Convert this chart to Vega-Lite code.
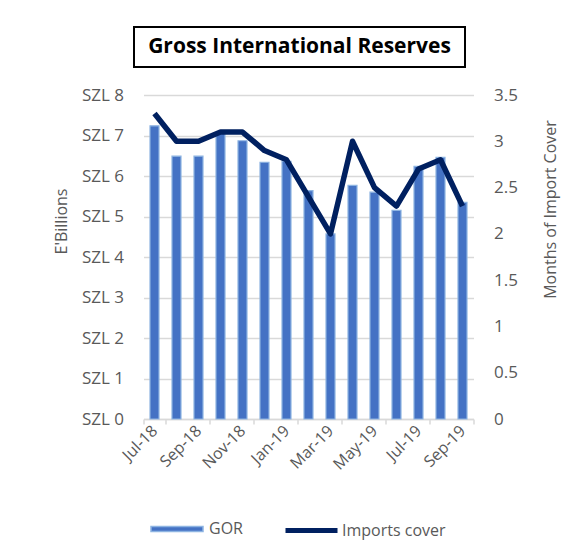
{
  "$schema": "https://vega.github.io/schema/vega-lite/v6.json",
  "background": "white",
  "padding": {"left": 53, "top": 26, "right": 5, "bottom": 5},
  "config": {"font": "Open Sans"},
  "spacing": 18,
  "center": true,
  "vconcat": [
    {
      "width": 331,
      "height": 40,
      "view": {"stroke": "black", "strokeWidth": 2},
      "data": {"values": [{"title": "Gross International Reserves"}]},
      "mark": {"type": "text", "fontWeight": "bold", "fontSize": 21, "font": "Open Sans", "color": "black"},
      "encoding": {
        "text": {"field": "title"},
        "y": {
          "datum": "t",
          "type": "nominal",
          "axis": {
            "orient": "right",
            "labels": false,
            "ticks": false,
            "domain": false,
            "grid": false,
            "minExtent": 0,
            "title": "|",
            "titleColor": "white",
            "titleFontSize": 10,
            "titlePadding": 92
          }
        }
      }
    },
    {
      "width": 330,
      "height": 324,
      "view": {"stroke": null},
      "data": {
        "values": [
          {"month": "Jul-18", "gor": 7.24, "cover": 3.3},
          {"month": "Aug-18", "gor": 6.49, "cover": 3.0},
          {"month": "Sep-18", "gor": 6.49, "cover": 3.0},
          {"month": "Oct-18", "gor": 7.06, "cover": 3.1},
          {"month": "Nov-18", "gor": 6.87, "cover": 3.1},
          {"month": "Dec-18", "gor": 6.34, "cover": 2.9},
          {"month": "Jan-19", "gor": 6.36, "cover": 2.8},
          {"month": "Feb-19", "gor": 5.64, "cover": 2.4},
          {"month": "Mar-19", "gor": 4.57, "cover": 2.0},
          {"month": "Apr-19", "gor": 5.77, "cover": 3.0},
          {"month": "May-19", "gor": 5.60, "cover": 2.5},
          {"month": "Jun-19", "gor": 5.15, "cover": 2.3},
          {"month": "Jul-19", "gor": 6.24, "cover": 2.7},
          {"month": "Aug-19", "gor": 6.46, "cover": 2.8},
          {"month": "Sep-19", "gor": 5.35, "cover": 2.3}
        ]
      },
      "encoding": {
        "x": {
          "field": "month",
          "type": "nominal",
          "sort": null,
          "scale": {"paddingInner": 0, "paddingOuter": 0},
          "axis": {
            "title": null,
            "values": ["Jul-18", "Sep-18", "Nov-18", "Jan-19", "Mar-19", "May-19", "Jul-19", "Sep-19"],
            "tickBand": "extent",
            "labelAngle": -45,
            "labelAlign": "right",
            "labelBaseline": "middle",
            "labelFontSize": 16,
            "labelColor": "#595959",
            "labelPadding": 4,
            "domainColor": "#d9d9d9",
            "domainWidth": 1.5,
            "tickColor": "#d9d9d9",
            "tickWidth": 1.5,
            "tickSize": 5,
            "grid": false
          }
        }
      },
      "layer": [
        {
          "mark": {"type": "bar", "size": 9, "stroke": "#8db4e2", "strokeWidth": 1.2},
          "encoding": {
            "y": {
              "field": "gor",
              "type": "quantitative",
              "scale": {"domain": [0, 8]},
              "axis": {
                "values": [0, 1, 2, 3, 4, 5, 6, 7, 8],
                "labelExpr": "'SZL ' + datum.value",
                "labelFontSize": 17,
                "labelColor": "#595959",
                "labelPadding": 20,
                "ticks": false,
                "domain": false,
                "grid": true,
                "gridColor": "#d9d9d9",
                "gridWidth": 1.5,
                "title": "E'Billions",
                "titleFontSize": 16,
                "titleFontWeight": "normal",
                "titleColor": "#595959",
                "titleX": -82,
                "titleY": 126,
                "titleAlign": "center",
                "titleBaseline": "middle",
                "titleAngle": -90
              }
            },
            "fill": {
              "datum": "GOR",
              "type": "nominal",
              "scale": {"domain": ["GOR"], "range": ["#4472c4"]},
              "legend": {
                "title": null,
                "orient": "bottom",
                "direction": "horizontal",
                "symbolType": "M-1,-0.1H1V0.1H-1Z",
                "symbolSize": 2704,
                "symbolStrokeColor": "#8db4e2",
                "symbolStrokeWidth": 1.5,
                "labelFontSize": 16,
                "labelColor": "#595959",
                "labelOffset": 5,
                "padding": 16,
                "offset": 13
              }
            }
          }
        },
        {
          "mark": {"type": "line", "strokeWidth": 5.5, "strokeJoin": "round"},
          "encoding": {
            "y": {
              "field": "cover",
              "type": "quantitative",
              "scale": {"domain": [0, 3.5]},
              "axis": {
                "orient": "right",
                "values": [0, 0.5, 1, 1.5, 2, 2.5, 3, 3.5],
                "format": "~g",
                "labelFontSize": 17,
                "labelColor": "#595959",
                "labelPadding": 20,
                "ticks": false,
                "domain": false,
                "grid": false,
                "title": "Months of Import Cover",
                "titleFontSize": 16,
                "titleFontWeight": "normal",
                "titleColor": "#595959",
                "titleX": 77,
                "titleY": 114,
                "titleAlign": "center",
                "titleBaseline": "middle",
                "titleAngle": -90
              }
            },
            "stroke": {
              "datum": "Imports cover",
              "type": "nominal",
              "scale": {"domain": ["Imports cover"], "range": ["#002060"]},
              "legend": {
                "title": null,
                "orient": "bottom",
                "direction": "horizontal",
                "symbolType": "M-1,0H1",
                "symbolSize": 2704,
                "symbolStrokeWidth": 5,
                "labelFontSize": 16,
                "labelColor": "#595959",
                "labelOffset": 2,
                "padding": 16,
                "offset": 13
              }
            }
          }
        }
      ],
      "resolve": {"scale": {"y": "independent"}}
    }
  ]
}
